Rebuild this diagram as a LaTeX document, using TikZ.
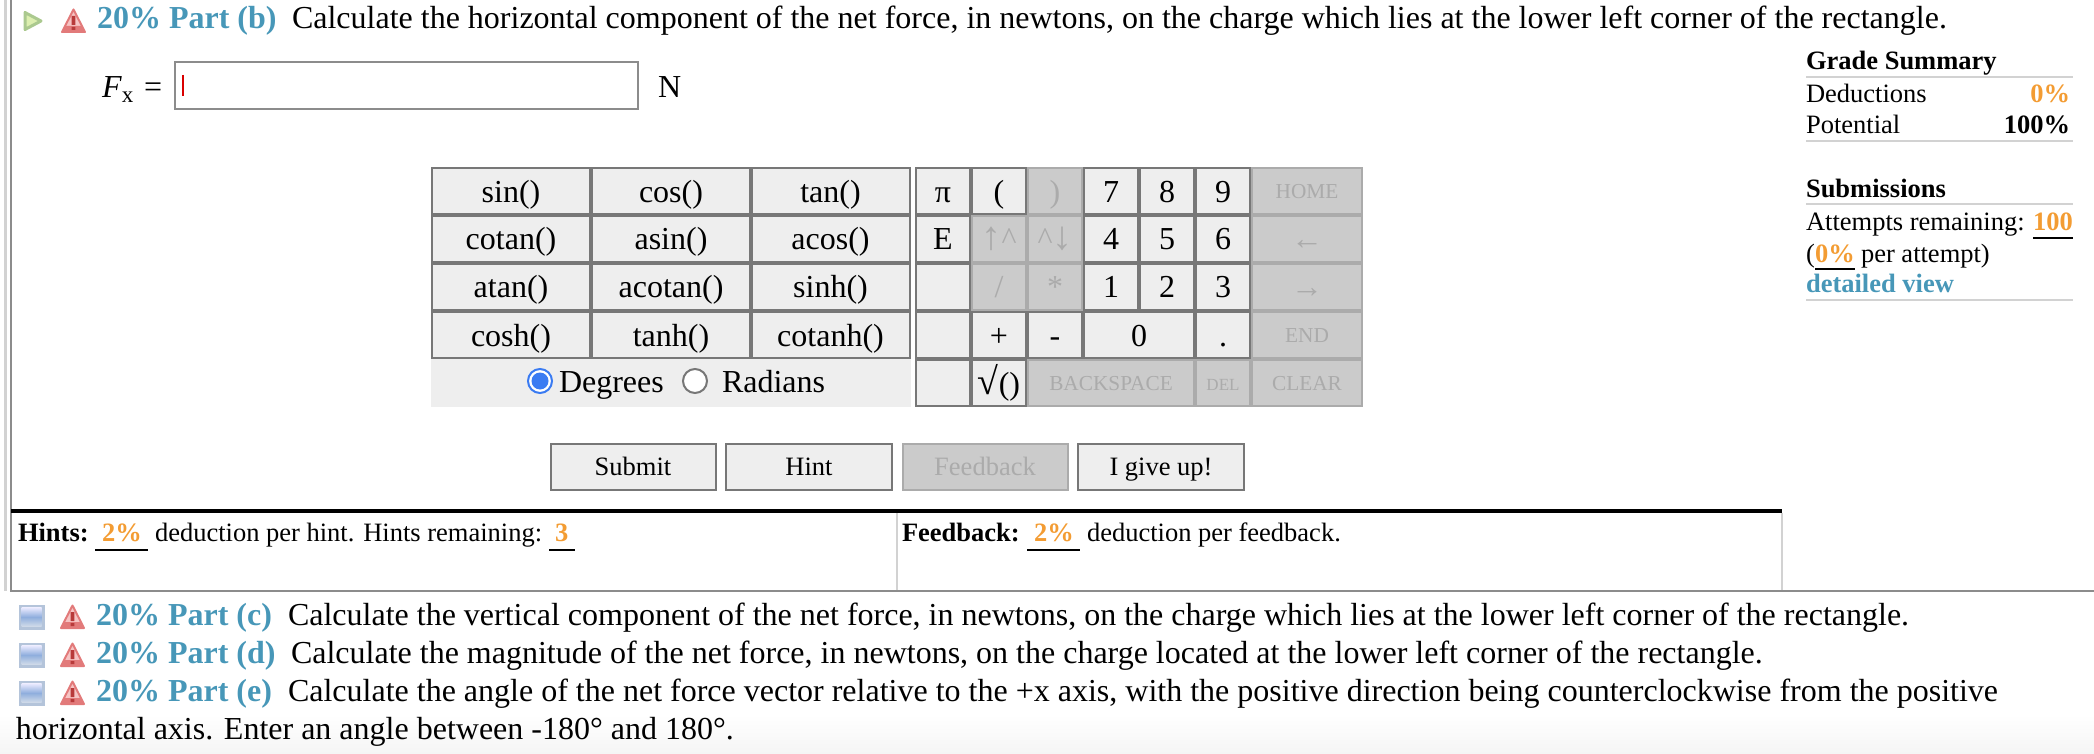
\documentclass[tikz,border=0pt]{standalone}
\usepackage{fontspec}
\setmainfont{Liberation Serif}
\usepackage{tikz}
\usetikzlibrary{shapes.geometric}

\definecolor{partblue}{HTML}{4797B8}
\definecolor{markorange}{HTML}{F39C33}
\definecolor{btnfill}{HTML}{EEEEEE}
\definecolor{btnoff}{HTML}{CBCBCB}
\definecolor{btntextoff}{HTML}{ABABAB}
\definecolor{btnedge}{HTML}{777777}
\definecolor{btndark}{HTML}{2B2B2B}
\definecolor{ruleline}{HTML}{D2D2D2}
\definecolor{frameline}{HTML}{8C8C8C}
\definecolor{radioblue}{HTML}{3A7BF2}
\definecolor{warnedge}{HTML}{E27A7A}
\definecolor{warnfill}{HTML}{F6C4C4}
\definecolor{warnmark}{HTML}{B83A3A}
\definecolor{foldedge}{HTML}{B4C4DA}
\definecolor{foldmid}{HTML}{8FAEDD}
\definecolor{playedge}{HTML}{ABC98F}
\definecolor{playfill}{HTML}{DDEFB0}

\newcommand{\sizemain}{\fontsize{32}{38}\selectfont}
\newcommand{\sizeside}{\fontsize{26.5}{32}\selectfont}
\newcommand{\sizekey}{\fontsize{21.3}{26}\selectfont}

\tikzset{
    keybtn/.style={draw=btnedge, fill=btnfill, line width=2pt, inner sep=0pt, outer sep=0pt,
        minimum height=46pt, font=\sizemain, text height=23pt, text depth=1pt,
        append after command={\pgfextra{\draw[btndark, line width=2pt]
            (\tikzlastnode.south west) -- (\tikzlastnode.south east) -- (\tikzlastnode.north east);}}},
    keyoff/.style={draw=btntextoff, fill=btnoff, line width=2pt, inner sep=0pt, outer sep=0pt,
        minimum height=46pt, font=\sizemain, text=btntextoff, text height=23pt, text depth=1pt},
    funckey/.style={keybtn, minimum width=158pt},
    numkey/.style={keybtn, minimum width=54pt},
    wordkey/.style={keyoff, minimum width=110pt, font=\sizekey, text height=16pt},
    formbtn/.style={font=\sizeside, text height=19pt},
    linetext/.style={anchor=base west, inner sep=0pt, outer sep=0pt, font=\sizemain},
    sidetext/.style={anchor=base west, inner sep=0pt, outer sep=0pt, font=\sizeside},
    parttext/.style={linetext, text=partblue, font=\sizemain\bfseries},
    marktext/.style={sidetext, text=markorange, font=\sizeside\bfseries},
    sidehead/.style={sidetext, font=\sizeside\bfseries},
    markline/.style={black, line width=2pt},
    sideline/.style={ruleline, line width=2pt},
    warnicon/.pic={
        \filldraw[warnedge, line width=2pt, line join=round, fill=warnfill] (0,-11.5) -- (11.5,11) -- (-11.5,11) -- cycle;
        \fill[warnedge] (-9,5) -- (9,5) -- (10,10) -- (-10,10) -- cycle;
        \fill[warnmark] (-1.8,-5) rectangle (1.8,4) (-1.8,6) rectangle (1.8,9);
    },
    foldicon/.pic={
        \fill[foldedge] (-13,-12.5) rectangle (13,12.5);
        \shade[top color=white!92!blue, bottom color=foldedge!60!white, middle color=foldmid] (-10,-9.5) rectangle (10,9.5);
    }
}

\begin{document}
\begin{tikzpicture}[x=1pt, y=-1pt]
    \useasboundingbox (0,0) rectangle (2094,754);
    \shade[top color=white, bottom color=black!4] (0,715) rectangle (2094,754);

    % Frame
    \draw[ruleline, line width=3pt] (5,0) -- (5,591);
    \draw[frameline, line width=2pt] (11,0) -- (11,591) -- (2094,591);
    \draw[black, line width=4pt] (11,511) -- (1782,511);
    \draw[ruleline, line width=1.5pt] (897,513) -- (897,590);
    \draw[ruleline, line width=1.5pt] (1782,513) -- (1782,590);

    % Part b
    \filldraw[playedge, line width=3pt, line join=round, fill=playfill] (25,12.5) -- (41,21) -- (25,29.5) -- cycle;
    \pic at (73.5,21) {warnicon};
    \node (partb) [parttext] at (97,28.5) {20\% Part (b)};
    \node (textb) [linetext] at (292,28.5) {Calculate the horizontal component of the net force, in newtons, on the charge which lies at the lower left corner of the rectangle.};

    % Answer
    \node (fx) [linetext] at (102,97.5) {\textit{F}\raisebox{-5pt}{\fontsize{23}{27}\selectfont x}};
    \node (equals) [linetext] at (144,97.5) {=};
    \node (answer) [draw=frameline, line width=2pt, fill=white, minimum width=463pt, minimum height=47pt, inner sep=0pt, outer sep=0pt] at (406.5,86) {};
    \draw[red!85!black, line width=1.5pt] (183,75) -- (183,96);
    \node (unit) [linetext] at (658,97.5) {N};

    % Function keys
    \node (sin) [funckey] at (511,191.5) {sin()};
    \node (cos) [funckey] at (671,191.5) {cos()};
    \node (tan) [funckey] at (830.5,191.5) {tan()};
    \node (cotan) [funckey] at (511,239) {cotan()};
    \node (asin) [funckey] at (671,239) {asin()};
    \node (acos) [funckey] at (830.5,239) {acos()};
    \node (atan) [funckey] at (511,287) {atan()};
    \node (acotan) [funckey] at (671,287) {acotan()};
    \node (sinh) [funckey] at (830.5,287) {sinh()};
    \node (cosh) [funckey] at (511,335) {cosh()};
    \node (tanh) [funckey] at (671,335) {tanh()};
    \node (cotanh) [funckey] at (830.5,335) {cotanh()};

    % Degrees and radians
    \fill[btnfill] (431,359) rectangle (911,407);
    \draw[radioblue, line width=2pt, fill=white] (540,381) circle (12pt);
    \fill[radioblue] (540,381) circle (8.5pt);
    \draw[btnedge, line width=2pt, fill=white] (695,381) circle (12pt);
    \node (degrees) [linetext] at (559,392) {Degrees};
    \node (radians) [linetext] at (722,392) {Radians};

    % Number keys
    \node (pi) [numkey] at (943,191.5) {π};
    \node (open) [numkey] at (999,191.5) {(};
    \node (close) [keyoff, minimum width=54pt] at (1055,191.5) {)};
    \node (seven) [numkey] at (1111,191.5) {7};
    \node (eight) [numkey] at (1167,191.5) {8};
    \node (nine) [numkey] at (1223,191.5) {9};
    \node (home) [wordkey] at (1307,191.5) {HOME};
    \node (euler) [numkey] at (943,239) {E};
    \node (up) [keyoff, minimum width=54pt] at (999,239) {{\fontsize{40}{40}\selectfont ↑}\^{}};
    \node (down) [keyoff, minimum width=54pt] at (1055,239) {\^{}{\fontsize{40}{40}\selectfont ↓}};
    \node (four) [numkey] at (1111,239) {4};
    \node (five) [numkey] at (1167,239) {5};
    \node (six) [numkey] at (1223,239) {6};
    \node (left) [keyoff, minimum width=110pt] at (1307,239) {←};
    \node (blanka) [numkey] at (943,287) {};
    \node (slash) [keyoff, minimum width=54pt] at (999,287) {/};
    \node (star) [keyoff, minimum width=54pt] at (1055,287) {*};
    \node (one) [numkey] at (1111,287) {1};
    \node (two) [numkey] at (1167,287) {2};
    \node (three) [numkey] at (1223,287) {3};
    \node (right) [keyoff, minimum width=110pt] at (1307,287) {→};
    \node (blankb) [numkey] at (943,335) {};
    \node (plus) [numkey] at (999,335) {+};
    \node (minus) [numkey] at (1055,335) {-};
    \node (zero) [keybtn, minimum width=110pt] at (1139,335) {0};
    \node (dot) [numkey] at (1223,335) {.};
    \node (end) [wordkey] at (1307,335) {END};
    \node (blankc) [numkey] at (943,383) {};
    \node (root) [numkey] at (999,383) {{\fontsize{38}{38}\selectfont √}()};
    \node (backspace) [wordkey, minimum width=166pt] at (1111,383) {BACKSPACE};
    \node (del) [wordkey, minimum width=54pt, font=\fontsize{17}{21}\selectfont] at (1223,383) {DEL};
    \node (clear) [wordkey] at (1307,383) {CLEAR};

    % Buttons
    \node (submit) [keybtn, formbtn, minimum width=165pt] at (633,466.5) {Submit};
    \node (hint) [keybtn, formbtn, minimum width=166pt] at (809,466.5) {Hint};
    \node (feedback) [keyoff, formbtn, minimum width=165pt] at (985,466.5) {Feedback};
    \node (giveup) [keybtn, formbtn, minimum width=166pt] at (1161,466.5) {I give up!};

    % Hints
    \node (hints) [sidehead] at (18,541.5) {Hints:};
    \node (hintcost) [marktext] at (102,541.5) {2\%};
    \draw[markline] (95,550) -- (148,550);
    \node (hintline) [sidetext] at (155,541.5) {deduction per hint. Hints remaining:};
    \node (hintleft) [marktext] at (555,541.5) {3};
    \draw[markline] (549,550) -- (575,550);
    \node (feedhead) [sidehead] at (902,541.5) {Feedback:};
    \node (feedcost) [marktext] at (1034,541.5) {2\%};
    \draw[markline] (1027,550) -- (1080,550);
    \node (feedline) [sidetext] at (1087,541.5) {deduction per feedback.};

    % Grade summary
    \node (grade) [sidehead] at (1806,69.5) {Grade Summary};
    \draw[sideline] (1806,77) -- (2073,77);
    \node (deductions) [sidetext] at (1806,102.5) {Deductions};
    \node (deducted) [marktext, anchor=base east] at (2070,102.5) {0\%};
    \node (potential) [sidetext] at (1806,133.5) {Potential};
    \node (possible) [sidehead, anchor=base east] at (2070,133.5) {100\%};
    \draw[sideline] (1806,141) -- (2073,141);

    % Submissions
    \node (submissions) [sidehead] at (1806,198) {Submissions};
    \draw[sideline] (1806,204) -- (2073,204);
    \node (attempts) [sidetext] at (1806,230.5) {Attempts remaining:};
    \node (attemptsleft) [marktext] at (2033,230.5) {100};
    \draw[markline] (2033,238) -- (2073,238);
    \node (peropen) [sidetext] at (1806,262) {(};
    \node (percost) [marktext] at (1815,262) {0\%};
    \draw[markline] (1815,269) -- (1855,269);
    \node (perattempt) [sidetext] at (1861,262) {per attempt)};
    \node (detailed) [sidehead, text=partblue] at (1806,292.5) {detailed view};
    \draw[sideline] (1806,300) -- (2073,300);

    % Parts c to e
    \pic at (31.5,617) {foldicon};
    \pic at (72.5,617) {warnicon};
    \node (partc) [parttext] at (96,625) {20\% Part (c)};
    \node (textc) [linetext] at (288,625) {Calculate the vertical component of the net force, in newtons, on the charge which lies at the lower left corner of the rectangle.};
    \pic at (31.5,655) {foldicon};
    \pic at (72.5,655) {warnicon};
    \node (partd) [parttext] at (96,663) {20\% Part (d)};
    \node (textd) [linetext] at (291,663) {Calculate the magnitude of the net force, in newtons, on the charge located at the lower left corner of the rectangle.};
    \pic at (31.5,693) {foldicon};
    \pic at (72.5,693) {warnicon};
    \node (parte) [parttext] at (96,701) {20\% Part (e)};
    \node (texte) [linetext] at (288,701) {Calculate the angle of the net force vector relative to the +x axis, with the positive direction being counterclockwise from the positive};
    \node (textf) [linetext] at (16,739) {horizontal axis. Enter an angle between -180° and 180°.};
\end{tikzpicture}
\end{document}
